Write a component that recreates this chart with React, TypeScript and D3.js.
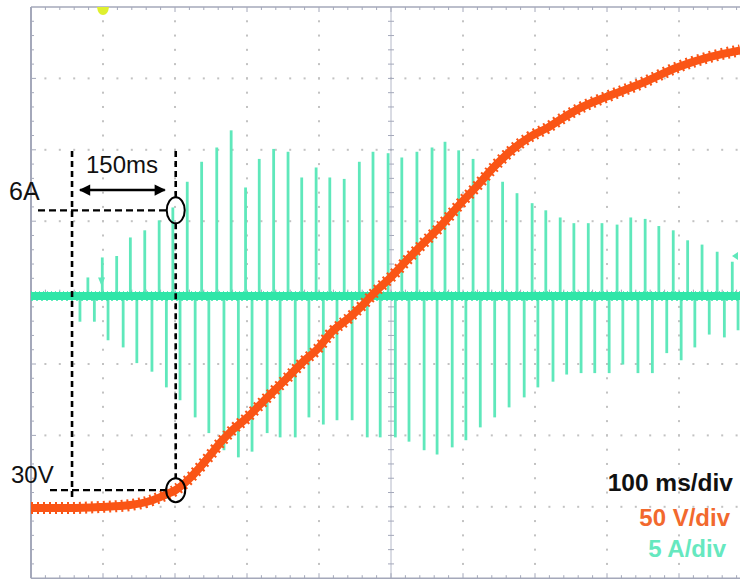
import React from "react";
import * as d3 from "d3";

// ---- data (time in ms from left edge, 100 ms/div) ----
const upT = [79, 99, 119, 138, 158, 178, 197, 217, 237, 258, 278, 298, 317, 337, 357, 376, 396, 415, 435, 456, 475, 496, 515, 536, 557, 575, 594, 614, 635, 655, 675, 696, 715, 735, 754, 774, 793, 814, 833, 853, 872, 892, 912, 932, 953, 974];
const upA = [1.3, 2.7, 2.8, 4.1, 4.6, 5.3, 6.2, 8.0, 9.4, 10.4, 11.6, 7.6, 9.6, 10.3, 10.1, 8.3, 9.0, 8.3, 8.2, 9.4, 10.1, 10.0, 9.7, 10.1, 10.4, 10.8, 10.2, 9.6, 8.8, 8.0, 7.2, 6.5, 6.0, 5.5, 5.1, 5.1, 5.1, 5.0, 5.5, 5.4, 4.9, 4.6, 3.9, 3.6, 3.1, 2.4];
const dnT = [68, 88, 107, 128, 147, 168, 188, 207, 228, 247, 268, 288, 307, 328, 346, 367, 386, 406, 425, 446, 467, 485, 506, 525, 546, 564, 585, 604, 624, 644, 664, 685, 704, 725, 744, 764, 783, 803, 822, 843, 863, 883, 903, 922, 942, 963, 982];
const dnA = [-1.8, -1.8, -3.1, -3.6, -4.7, -5.3, -6.4, -7.3, -8.5, -9.6, -10.8, -11.3, -10.9, -9.6, -9.9, -9.9, -8.5, -9.0, -8.7, -8.7, -9.9, -9.9, -9.9, -10.2, -10.8, -11.1, -10.6, -10.1, -9.2, -8.5, -7.8, -7.1, -6.4, -6.0, -5.5, -5.4, -5.4, -5.4, -4.8, -5.4, -5.4, -4.0, -4.5, -3.6, -2.7, -2.9, -2.4];
const voltT = [0, 54, 96, 138, 165, 186, 201, 221, 235, 249, 265, 280, 300, 318, 356, 378, 397, 418, 442, 461, 481, 499, 520, 540, 568, 596, 621, 642, 668, 693, 717, 739, 763, 799, 846, 899, 943, 985];
const voltV = [17.5, 17.5, 18.2, 19.6, 22.4, 26.6, 30.1, 38.5, 46.2, 54.6, 64.4, 72.2, 80.7, 89.8, 108.7, 119.9, 128.3, 140.9, 150.7, 159.8, 170.3, 178.7, 189.9, 200.4, 214.4, 230.5, 243.8, 255.7, 268.3, 277.4, 283.7, 290.7, 297.7, 305.4, 314.5, 326.4, 333.4, 338.0];

const markT = [57, 201]; // 150 ms annotation
const markA = 6;
const markV = 30;
const labels = { amp: "6A", volt: "30V", span: "150ms" };
const scaleLabels = ["100 ms/div", "50 V/div", "5 A/div"];

const W = 740, H = 581;
const GX0 = 31, DX = 72, GY0 = 7, DY = 71.4;
const NX = 10, NY = 8;

const xS = d3.scaleLinear().domain([0, 1000]).range([GX0, GX0 + NX * DX]);
const iS = d3.scaleLinear().domain([-20, 20]).range([296 + 4 * DY, 296 - 4 * DY]);
const vS = d3.scaleLinear().domain([0, 400]).range([533, 533 - 8 * DY]);

const ORANGE = "#fa5516";
const GREEN = "#5fe8bb";
const GREEN_BASE = "#30e6a8";

export default function App() {
  const gBottom = GY0 + NY * DY;
  const gRight = GX0 + NX * DX;
  const dots: JSX.Element[] = [];
  for (let k = 1; k < NX; k++) {
    if (k === 5) continue;
    const x = GX0 + k * DX;
    for (let j = 1; j < NY * 5; j++) {
      const y = GY0 + (j * DY) / 5;
      dots.push(<rect key={`v${k}-${j}`} x={x - 1} y={y - 1} width={2} height={2} fill="#c2c2c2" />);
    }
  }
  for (let r = 1; r < NY; r++) {
    if (r === 4) continue;
    const y = GY0 + r * DY;
    for (let j = 1; j < NX * 5; j++) {
      const x = GX0 + (j * DX) / 5;
      dots.push(<rect key={`h${r}-${j}`} x={x - 1} y={y - 1} width={2} height={2} fill="#c2c2c2" />);
    }
  }
  const ticks: JSX.Element[] = [];
  for (let j = 1; j < NX * 5; j++) {
    const x = GX0 + (j * DX) / 5;
    const len = j % 5 === 0 ? 5 : 3;
    ticks.push(<line key={`tt${j}`} x1={x} x2={x} y1={GY0} y2={GY0 + len} stroke="#a4a8ba" strokeWidth={1} />);
    ticks.push(<line key={`tb${j}`} x1={x} x2={x} y1={gBottom} y2={gBottom - len} stroke="#a4a8ba" strokeWidth={1} />);
    ticks.push(<line key={`tc${j}`} x1={x} x2={x} y1={GY0 + 4 * DY - 3} y2={GY0 + 4 * DY + 3} stroke="#a4a8ba" strokeWidth={1} />);
  }
  for (let j = 1; j < NY * 5; j++) {
    const y = GY0 + (j * DY) / 5;
    const len = j % 5 === 0 ? 5 : 3;
    ticks.push(<line key={`tl${j}`} x1={GX0} x2={GX0 + len} y1={y} y2={y} stroke="#a4a8ba" strokeWidth={1} />);
    ticks.push(<line key={`tm${j}`} x1={GX0 + 5 * DX - 3} x2={GX0 + 5 * DX + 3} y1={y} y2={y} stroke="#a4a8ba" strokeWidth={1} />);
  }

  const voltLine = d3
    .line<number>()
    .x((_, i) => xS(voltT[i]))
    .y((d) => vS(d))
    .curve(d3.curveMonotoneX)(voltV) as string;

  const y0 = iS(0);
  const xa = xS(markT[0]);
  const xb = xS(markT[1]);
  const yA = iS(markA);
  const yV = vS(markV);
  const font = "'Liberation Sans', Arial, sans-serif";

  return (
    <svg
      width={W}
      height={H}
      style={{ position: "absolute", left: 0, top: 0, background: "#fff" }}
      fontFamily={font}
    >
      <defs>
        <marker id="ah" viewBox="0 0 10 10" refX="9" refY="5" markerWidth="5.5" markerHeight="4.5" orient="auto-start-reverse">
          <path d="M0,0 L10,5 L0,10 Z" fill="#000" />
        </marker>
      </defs>
      <rect x={0} y={0} width={W} height={H} fill="#fff" />
      <g>{dots}</g>
      <line x1={GX0 + 5 * DX} x2={GX0 + 5 * DX} y1={GY0} y2={gBottom} stroke="#b4b8c8" strokeWidth={1} />
      <line x1={GX0} x2={gRight} y1={GY0 + 4 * DY} y2={GY0 + 4 * DY} stroke="#b4b8c8" strokeWidth={1} />
      <g>{ticks}</g>
      <line x1={GX0} x2={gRight} y1={GY0} y2={GY0} stroke="#a4a8ba" strokeWidth={1.5} />
      <line x1={GX0} x2={gRight} y1={gBottom} y2={gBottom} stroke="#a4a8ba" strokeWidth={1.5} />
      <line x1={GX0} x2={GX0} y1={GY0} y2={gBottom} stroke="#a4a8ba" strokeWidth={2} />

      <path d={`M${xS(100) - 6},${GY0} L${xS(100) + 6},${GY0} Q${xS(100) + 5},${GY0 + 8} ${xS(100)},${GY0 + 8} Q${xS(100) - 5},${GY0 + 8} ${xS(100) - 6},${GY0} Z`} fill="#dff02e" />

      <g stroke={GREEN} strokeWidth={2.8}>
        {upT.map((t, i) => (
          <line key={`u${i}`} x1={xS(t)} x2={xS(t)} y1={y0} y2={iS(upA[i])} />
        ))}
        {dnT.map((t, i) => (
          <line key={`d${i}`} x1={xS(t)} x2={xS(t)} y1={y0} y2={iS(dnA[i])} />
        ))}
      </g>
      <line x1={GX0} x2={W} y1={y0} y2={y0} stroke={GREEN_BASE} strokeWidth={8} />
      <line x1={GX0} x2={W} y1={y0 - 4} y2={y0 - 4} stroke={GREEN_BASE} strokeWidth={1.5} strokeDasharray="1 3" />
      <line x1={GX0} x2={W} y1={y0 + 4} y2={y0 + 4} stroke={GREEN_BASE} strokeWidth={1.5} strokeDasharray="2 3" />
      <path d={`M${xS(98) - 3.5},${iS(1.3)} L${xS(98) + 3.5},${iS(1.3)} L${xS(98)},${iS(0.7)} Z`} fill={GREEN} />
      <path d={`M${W - 2},${iS(2.8) - 4} L${W - 2},${iS(2.8) + 4} L${W - 8},${iS(2.8)} Z`} fill={GREEN} />

      <path d={voltLine} fill="none" stroke={ORANGE} strokeWidth={8} strokeLinejoin="round" />
      <path d={voltLine} fill="none" stroke={ORANGE} strokeWidth={12} strokeDasharray="2 4" />

      <g stroke="#000" fill="none">
        <line x1={xa} x2={xa} y1={151} y2={yV + 8} strokeWidth={2.6} strokeDasharray="6 4" />
        <line x1={xb} x2={xb} y1={151} y2={yA - 13} strokeWidth={2.6} strokeDasharray="6 4" />
        <line x1={xb} x2={xb} y1={yA + 13} y2={yV - 12} strokeWidth={2.6} strokeDasharray="6 4" />
        <line x1={38} x2={xb - 9} y1={yA} y2={yA} strokeWidth={2.2} strokeDasharray="7 4" />
        <line x1={50} x2={xb - 9} y1={yV} y2={yV} strokeWidth={2.2} strokeDasharray="7 4" />
        <ellipse cx={xb} cy={yA} rx={9} ry={13} strokeWidth={2} />
        <ellipse cx={xb} cy={yV} rx={9.5} ry={12} strokeWidth={2} />
        <line x1={xa + 8} x2={xb - 11} y1={190} y2={190} strokeWidth={2.5} markerStart="url(#ah)" markerEnd="url(#ah)" />
      </g>
      <text x={86} y={173} fontSize={24} fill="#111">{labels.span}</text>
      <text x={9} y={200} fontSize={25} fill="#111">{labels.amp}</text>
      <text x={11} y={483} fontSize={24} fill="#111">{labels.volt}</text>

      <text x={733} y={491} fontSize={24.5} fontWeight="bold" textAnchor="end" fill="#111">{scaleLabels[0]}</text>
      <text x={730} y={526} fontSize={24} fontWeight="bold" textAnchor="end" fill="#f2692e">{scaleLabels[1]}</text>
      <text x={726} y={557} fontSize={24} fontWeight="bold" textAnchor="end" fill="#66e8bf">{scaleLabels[2]}</text>
    </svg>
  );
}
